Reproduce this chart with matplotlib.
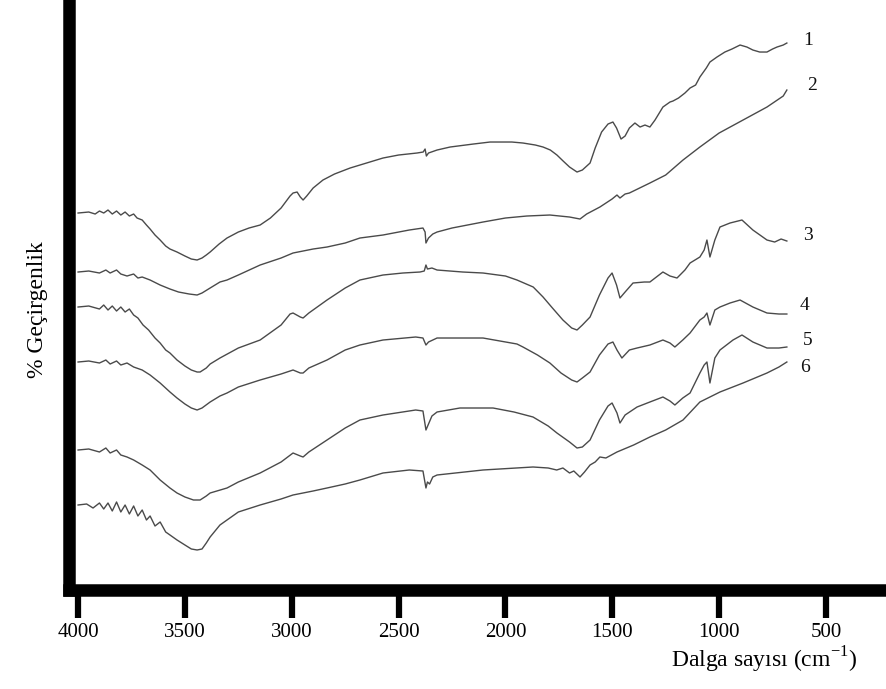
import matplotlib
matplotlib.use("Agg")
import matplotlib.pyplot as plt

plt.rcParams['font.family'] = ['Liberation Serif', 'DejaVu Serif']
plt.rcParams['mathtext.fontset'] = 'custom'
plt.rcParams['mathtext.rm'] = 'Liberation Serif'

# FTIR spectra: wavenumber (cm-1) and transmittance (arbitrary units)
wn1 = [4000, 3950, 3920, 3900, 3880, 3860, 3840, 3820, 3800, 3780, 3760, 3740, 3724, 3700, 3680, 3663,
       3640, 3616, 3590, 3570, 3537, 3500, 3470, 3443, 3420, 3400, 3382, 3340, 3303, 3250, 3200, 3148,
       3100, 3050, 3008, 2994, 2975, 2960, 2947, 2930, 2900, 2854, 2800, 2727, 2650, 2573, 2500, 2414,
       2385, 2376, 2370, 2360, 2320, 2259, 2150, 2072, 1970, 1918, 1860, 1824, 1790, 1759, 1730, 1700,
       1665, 1640, 1604, 1580, 1550, 1520, 1497, 1480, 1459, 1440, 1420, 1394, 1370, 1347, 1324, 1300,
       1263, 1230, 1216, 1190, 1160, 1136, 1110, 1090, 1060, 1043, 1010, 973, 940, 902, 870, 842, 810,
       776, 750, 729, 700, 683]
t1 = [377, 378, 376, 379, 377, 380, 376, 379, 375, 378, 374, 376, 372, 370, 365, 361,
      355, 350, 344, 341, 338, 334, 331, 330, 332, 335, 338, 346, 352, 358, 362, 365,
      372, 382, 394, 397, 398, 393, 390, 394, 402, 410, 416, 422, 427, 432, 435, 437,
      438, 441, 434, 437, 440, 443, 446, 448, 448, 447, 445, 443, 440, 435, 429, 423,
      418, 420, 427, 442, 458, 466, 468, 462, 451, 454, 462, 467, 463, 465, 463, 470,
      483, 488, 489, 492, 497, 502, 505, 513, 522, 528, 533, 538, 541, 545, 543, 540, 538,
      538, 541, 543, 545, 547]

wn2 = [4000, 3950, 3900, 3870, 3850, 3820, 3800, 3771, 3740, 3720, 3700, 3663, 3616, 3570, 3530, 3480,
       3443, 3420, 3382, 3336, 3303, 3250, 3148, 3050, 2994, 2900, 2835, 2750, 2681, 2573, 2450, 2386,
       2376, 2372, 2360, 2340, 2320, 2250, 2105, 2000, 1900, 1792, 1700, 1651, 1620, 1558, 1501, 1478,
       1464, 1440, 1420, 1324, 1250, 1169, 1090, 1000, 888, 776, 700, 683]
t2 = [318, 319, 317, 320, 317, 320, 316, 314, 316, 312, 313, 310, 305, 301, 298, 296,
      295, 297, 302, 308, 310, 315, 325, 332, 337, 341, 343, 347, 352, 355, 360, 362,
      358, 347, 352, 356, 358, 362, 368, 372, 374, 375, 373, 371, 376, 383, 391, 395,
      392, 396, 397, 407, 415, 430, 443, 457, 470, 483, 494, 500]

wn3 = [4000, 3950, 3900, 3880, 3860, 3840, 3820, 3800, 3780, 3760, 3740, 3720, 3696, 3670, 3640, 3616,
       3590, 3570, 3537, 3500, 3470, 3443, 3429, 3400, 3382, 3336, 3250, 3148, 3050, 3008, 2994, 2960,
       2947, 2920, 2835, 2750, 2681, 2573, 2480, 2400, 2380, 2372, 2365, 2344, 2320, 2200, 2105, 2000,
       1946, 1870, 1824, 1780, 1731, 1690, 1665, 1640, 1604, 1560, 1520, 1501, 1480, 1464, 1440, 1403,
       1350, 1324, 1263, 1230, 1197, 1160, 1136, 1090, 1070, 1057, 1043, 1020, 996, 949, 893, 842,
       776, 740, 710, 683]
t3 = [283, 284, 281, 285, 280, 284, 279, 283, 278, 281, 275, 272, 265, 260, 252, 247,
      240, 237, 230, 224, 220, 218, 218, 222, 226, 232, 242, 250, 265, 276, 277, 273,
      272, 277, 290, 302, 310, 315, 317, 318, 319, 325, 321, 322, 320, 318, 317, 314,
      310, 303, 293, 282, 270, 262, 260, 265, 273, 295, 312, 317, 305, 292, 298, 307,
      308, 308, 318, 314, 312, 320, 327, 333, 340, 350, 333, 350, 363, 367, 370, 360,
      350, 348, 351, 349]

wn4 = [4000, 3950, 3900, 3870, 3850, 3820, 3800, 3771, 3740, 3700, 3663, 3616, 3570, 3537, 3500, 3470,
       3443, 3420, 3382, 3336, 3303, 3250, 3148, 3050, 2994, 2960, 2947, 2920, 2835, 2750, 2681, 2573,
       2420, 2386, 2372, 2360, 2320, 2105, 1946, 1918, 1850, 1792, 1740, 1690, 1665, 1640, 1604, 1560,
       1520, 1497, 1478, 1455, 1420, 1384, 1324, 1263, 1230, 1207, 1170, 1136, 1090, 1070, 1057, 1043,
       1020, 996, 949, 902, 842, 776, 720, 683]
t4 = [228, 229, 227, 230, 226, 229, 225, 227, 223, 220, 215, 207, 198, 192, 186, 182,
      180, 182, 188, 194, 197, 203, 210, 216, 220, 217, 217, 222, 230, 240, 245, 250,
      253, 252, 245, 248, 252, 252, 246, 243, 235, 227, 217, 210, 208, 212, 218, 235,
      246, 248, 240, 232, 240, 242, 245, 250, 247, 243, 250, 257, 270, 273, 277, 265,
      280, 283, 287, 290, 283, 277, 276, 276]

wn5 = [4000, 3950, 3900, 3870, 3850, 3820, 3800, 3771, 3740, 3700, 3663, 3616, 3570, 3537, 3500, 3460,
       3429, 3400, 3382, 3303, 3250, 3148, 3050, 2994, 2960, 2947, 2920, 2835, 2750, 2681, 2573, 2420,
       2386, 2372, 2360, 2344, 2320, 2213, 2058, 1960, 1871, 1800, 1759, 1700, 1665, 1640, 1604, 1560,
       1520, 1501, 1478, 1464, 1440, 1384, 1324, 1263, 1230, 1207, 1170, 1136, 1090, 1070, 1057, 1043,
       1020, 996, 935, 893, 842, 776, 720, 683]
t5 = [140, 141, 138, 142, 137, 140, 135, 133, 130, 125, 120, 110, 102, 97, 93, 90,
      90, 94, 97, 102, 108, 117, 128, 137, 134, 133, 138, 150, 162, 170, 175, 180,
      179, 160, 166, 174, 178, 182, 182, 178, 173, 164, 157, 148, 142, 143, 150, 170,
      184, 187, 177, 167, 175, 183, 188, 193, 189, 185, 192, 197, 217, 225, 228, 207,
      232, 240, 250, 255, 248, 242, 242, 243]

wn6 = [4000, 3960, 3930, 3900, 3880, 3860, 3840, 3820, 3800, 3780, 3760, 3740, 3720, 3700, 3680, 3663,
       3640, 3616, 3590, 3570, 3537, 3500, 3470, 3443, 3420, 3400, 3382, 3336, 3303, 3250, 3148, 3050,
       2994, 2900, 2835, 2750, 2681, 2573, 2450, 2386, 2372, 2365, 2355, 2340, 2320, 2105, 1871, 1800,
       1760, 1731, 1700, 1680, 1651, 1630, 1604, 1580, 1558, 1530, 1478, 1400, 1324, 1250, 1169, 1090,
       996, 888, 776, 720, 683]
t6 = [85, 86, 82, 87, 81, 87, 79, 88, 78, 85, 76, 84, 74, 80, 70, 74,
      64, 68, 58, 55, 50, 45, 41, 40, 41, 47, 53, 65, 70, 78, 85, 91,
      95, 99, 102, 106, 110, 117, 120, 119, 102, 108, 106, 113, 115, 120, 123, 122,
      120, 122, 117, 119, 113, 118, 125, 128, 133, 132, 138, 145, 153, 160, 170, 188,
      198, 207, 217, 223, 228]

spectra = [(wn1, t1), (wn2, t2), (wn3, t3), (wn4, t4), (wn5, t5), (wn6, t6)]
curve_labels = ['1', '2', '3', '4', '5', '6']
label_wn = [608, 589, 608, 622, 608, 622]
label_t = [550, 505, 355, 285, 250, 223]

fig = plt.figure(figsize=(8.86, 6.89), dpi=100)
ax = fig.add_axes([0.078, 0.1437, 0.922, 0.849])

for wn, t in spectra:
    ax.plot(wn, t, color='#4a4a4a', lw=1.0)

for lab, xw, yt in zip(curve_labels, label_wn, label_t):
    ax.text(xw, yt, lab, fontsize=14, ha='left', va='center', color='#111111')

ax.set_xlim(4042, 219)
ax.set_ylim(0, 585)
ax.set_xticks([4000, 3500, 3000, 2500, 2000, 1500, 1000, 500])
ax.set_yticks([])
for side in ['top', 'right']:
    ax.spines[side].set_visible(False)
for side in ['left', 'bottom']:
    ax.spines[side].set_linewidth(9)
ax.tick_params(axis='x', direction='out', length=20, width=4.5, pad=4, labelsize=15)

fig.text(0.042, 0.55, '% Geçirgenlik', rotation=90, ha='center', va='center', fontsize=17)
fig.text(0.968, 0.042, 'Dalga sayısı (cm$^{\\mathrm{-1}}$)', ha='right', va='center', fontsize=17)

fig.savefig('out.png', dpi=100)
